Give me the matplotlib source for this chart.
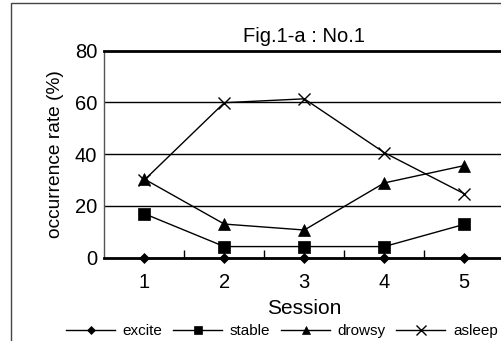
import matplotlib
matplotlib.use("Agg")
import matplotlib.pyplot as plt
from matplotlib.patches import Rectangle

plt.rcParams["font.family"] = ["Liberation Sans", "DejaVu Sans"]

sessions = [1, 2, 3, 4, 5]
excite = [0, 0, 0, 0, 0]
stable = [17, 4.3, 4.3, 4.3, 12.9]
drowsy = [30.4, 13.0, 10.7, 28.9, 35.6]
asleep = [30.0, 59.9, 61.4, 40.6, 24.7]

series = [
    ("excite", excite, "D", 5),
    ("stable", stable, "s", 8),
    ("drowsy", drowsy, "^", 8),
    ("asleep", asleep, "x", 9),
]

W, H = 501, 341
fig = plt.figure(figsize=(W / 100, H / 100), dpi=100)
ax = fig.add_axes([104.3 / W, 1 - 257.7 / H, 400 / W, 207 / H])

for label, vals, mk, ms in series:
    ax.plot(sessions, vals, color="black", lw=1.0, marker=mk, markersize=ms,
            markeredgewidth=1.0 if mk == "x" else 0.5, label=label, clip_on=False, zorder=3)

ax.set_xlim(0.5, 5.5)
ax.set_ylim(0, 80)
ax.set_yticks([0, 20, 40, 60, 80])
ax.set_xticks(sessions)
ax.set_xticks([1.5, 2.5, 3.5, 4.5], minor=True)
ax.tick_params(axis="y", length=0, pad=5, labelsize=14.5)
ax.tick_params(axis="x", which="major", length=0, pad=11, labelsize=14.5)
ax.tick_params(axis="x", which="minor", direction="in", length=6, width=1.0)
for y in (20, 40, 60):
    ax.axhline(y, color="black", lw=1.0, zorder=1)
ax.spines["top"].set_linewidth(2.0)
ax.spines["bottom"].set_linewidth(2.0)
ax.spines["left"].set_linewidth(1.0)
ax.spines["left"].set_color("#555555")
ax.spines["right"].set_visible(False)

ax.set_title("Fig.1-a : No.1", fontsize=14.5, pad=6)
ax.set_xlabel("Session", fontsize=15, labelpad=5)
ax.set_ylabel("occurrence rate (%)", fontsize=13.8, labelpad=8)

fig.legend(loc="center", bbox_to_anchor=(282 / W, 10 / H), ncol=4, frameon=False,
           fontsize=11, handlelength=3.2, handletextpad=0.5, columnspacing=0.7,
           markerscale=0.8)

fig.add_artist(Rectangle((11 / W, -0.5), 2, 0.5 + (1 - 3 / H), transform=fig.transFigure,
                         fill=False, edgecolor="#444444", lw=1.0))

fig.savefig("out.png", dpi=100)
